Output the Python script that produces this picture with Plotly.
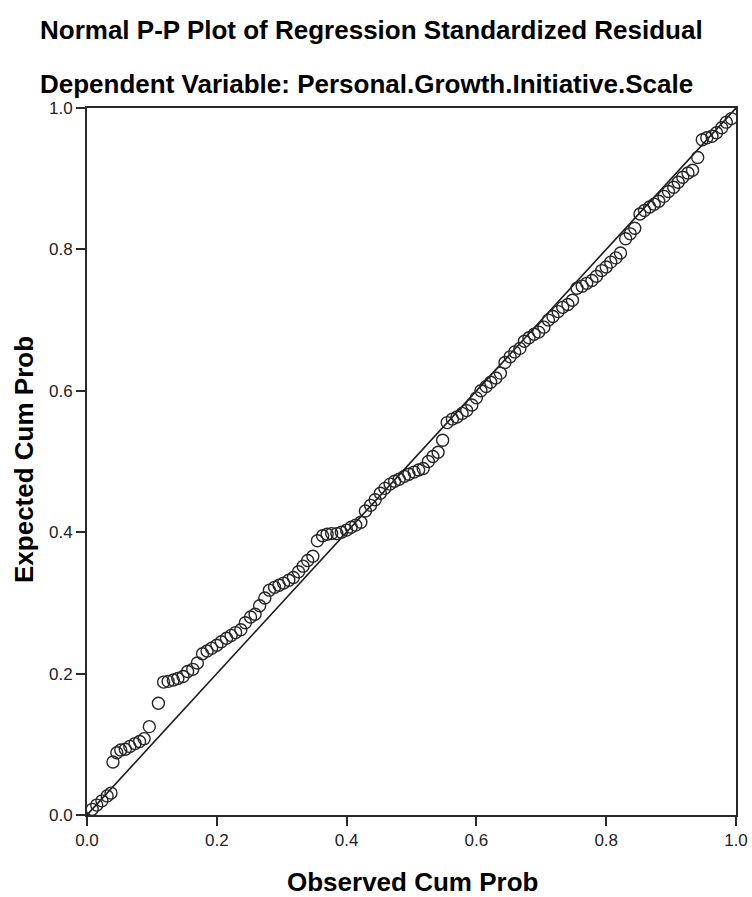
import plotly.graph_objects as go

observed = [0.008, 0.015, 0.023, 0.031, 0.037, 0.040, 0.046, 0.052, 0.059, 0.066,
            0.074, 0.081, 0.088, 0.096, 0.110, 0.118, 0.125, 0.133, 0.140, 0.148,
            0.155, 0.163, 0.170, 0.178, 0.185, 0.192, 0.200, 0.207, 0.215, 0.222,
            0.229, 0.237, 0.244, 0.252, 0.259, 0.266, 0.274, 0.281, 0.289, 0.296,
            0.303, 0.311, 0.318, 0.326, 0.333, 0.340, 0.348, 0.355, 0.363, 0.370,
            0.377, 0.385, 0.392, 0.400, 0.407, 0.414, 0.422, 0.429, 0.437, 0.444,
            0.452, 0.459, 0.467, 0.474, 0.481, 0.489, 0.496, 0.504, 0.511, 0.518,
            0.526, 0.533, 0.541, 0.548, 0.555, 0.563, 0.570, 0.578, 0.585, 0.593,
            0.600, 0.607, 0.615, 0.622, 0.630, 0.637, 0.644, 0.652, 0.659, 0.667,
            0.674, 0.681, 0.689, 0.696, 0.704, 0.711, 0.718, 0.726, 0.733, 0.741,
            0.748, 0.755, 0.763, 0.770, 0.778, 0.785, 0.793, 0.800, 0.807, 0.815,
            0.822, 0.830, 0.837, 0.844, 0.852, 0.859, 0.867, 0.874, 0.881, 0.889,
            0.896, 0.904, 0.911, 0.918, 0.926, 0.933, 0.941, 0.948, 0.955, 0.963,
            0.970, 0.978, 0.985, 0.993]

expected = [0.008, 0.014, 0.020, 0.027, 0.031, 0.075, 0.088, 0.092, 0.093, 0.097,
            0.101, 0.104, 0.108, 0.125, 0.158, 0.188, 0.189, 0.191, 0.193, 0.196,
            0.203, 0.206, 0.215, 0.228, 0.232, 0.236, 0.240, 0.245, 0.250, 0.254,
            0.258, 0.262, 0.272, 0.280, 0.284, 0.296, 0.307, 0.318, 0.322, 0.325,
            0.328, 0.332, 0.336, 0.344, 0.352, 0.360, 0.366, 0.388, 0.395, 0.397,
            0.398, 0.398, 0.400, 0.403, 0.407, 0.410, 0.414, 0.430, 0.438, 0.446,
            0.455, 0.462, 0.468, 0.472, 0.475, 0.479, 0.482, 0.485, 0.488, 0.490,
            0.500, 0.507, 0.513, 0.530, 0.555, 0.560, 0.563, 0.568, 0.572, 0.580,
            0.590, 0.600, 0.606, 0.612, 0.618, 0.625, 0.640, 0.648, 0.655, 0.660,
            0.670, 0.675, 0.680, 0.683, 0.690, 0.700, 0.705, 0.712, 0.718, 0.722,
            0.728, 0.745, 0.748, 0.752, 0.756, 0.762, 0.770, 0.775, 0.782, 0.788,
            0.795, 0.815, 0.822, 0.830, 0.850, 0.855, 0.860, 0.864, 0.868, 0.875,
            0.882, 0.888, 0.895, 0.902, 0.908, 0.912, 0.930, 0.955, 0.958, 0.960,
            0.965, 0.972, 0.980, 0.985]

ref_line = [0.0, 1.0]
tick_vals = [0.0, 0.2, 0.4, 0.6, 0.8, 1.0]
tick_text = ["0.0", "0.2", "0.4", "0.6", "0.8", "1.0"]

FONT = "Liberation Sans, Arial, sans-serif"
W, H = 752, 897
ML, MR, MT, MB = 87, 16, 108, 82

fig = go.Figure()
fig.add_trace(go.Scatter(x=ref_line, y=ref_line, mode="lines",
                         line=dict(color="#1a1a1a", width=1.6),
                         showlegend=False, hoverinfo="skip"))
fig.add_trace(go.Scatter(x=observed, y=expected, mode="markers",
                         marker=dict(symbol="circle-open", size=12,
                                     color="#262626", line=dict(width=1.4)),
                         showlegend=False))

axis_common = dict(range=[0, 1], tickvals=tick_vals, ticktext=tick_text,
                   showgrid=False, zeroline=False, showline=True,
                   linecolor="#2a2a2a", linewidth=2, mirror=True,
                   ticks="outside", ticklen=9, tickcolor="#2a2a2a", tickwidth=2,
                   automargin=False,
                   tickfont=dict(family=FONT, size=17, color="#222222"))

plot_w = W - ML - MR
plot_h = H - MT - MB

def px_to_paper(px, py):
    return (px - ML) / plot_w, (H - MB - py) / plot_h

t1x, t1y = px_to_paper(371, 30)
t2x, t2y = px_to_paper(366, 84)
xtx, xty = px_to_paper(412, 882)
ytx, yty = px_to_paper(24, 460)

fig.update_layout(
    width=W, height=H,
    margin=dict(l=ML, r=MR, t=MT, b=MB, pad=0),
    paper_bgcolor="white", plot_bgcolor="white",
    xaxis=dict(**axis_common),
    yaxis=dict(**axis_common),
    annotations=[
        dict(text="<b>Normal P-P Plot of Regression Standardized Residual</b>",
             x=t1x, y=t1y, xref="paper", yref="paper", showarrow=False,
             xanchor="center", yanchor="middle",
             font=dict(family=FONT, size=26, color="black")),
        dict(text="<b>Dependent Variable: Personal.Growth.Initiative.Scale</b>",
             x=t2x, y=t2y, xref="paper", yref="paper", showarrow=False,
             xanchor="center", yanchor="middle",
             font=dict(family=FONT, size=26, color="black")),
        dict(text="<b>Observed Cum Prob</b>",
             x=xtx, y=xty, xref="paper", yref="paper", showarrow=False,
             xanchor="center", yanchor="middle",
             font=dict(family=FONT, size=26, color="black")),
        dict(text="<b>Expected Cum Prob</b>", textangle=-90,
             x=ytx, y=yty, xref="paper", yref="paper", showarrow=False,
             xanchor="center", yanchor="middle",
             font=dict(family=FONT, size=26, color="black")),
    ],
)

fig.write_html("out.html", config={"displayModeBar": False},
               post_script="document.body.style.margin='0';document.body.style.padding='0';")
